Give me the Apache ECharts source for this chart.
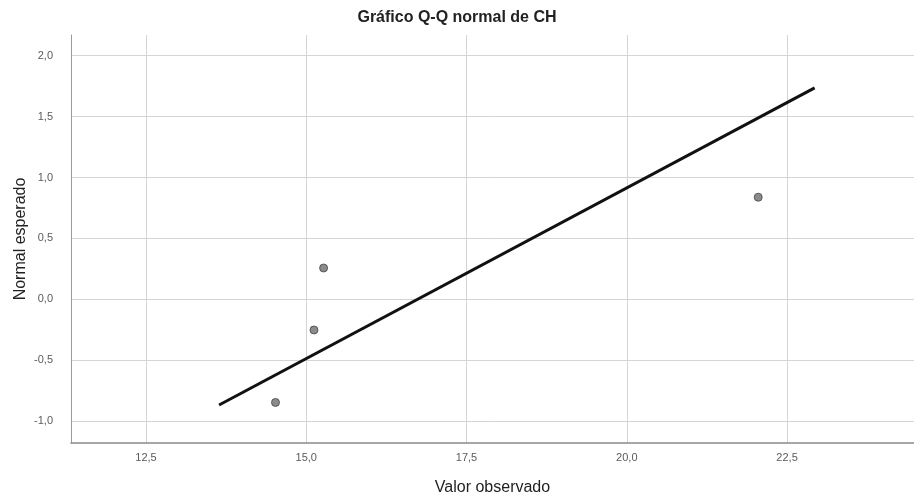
<!DOCTYPE html>
<html>
<head>
<meta charset="utf-8">
<title>Gráfico Q-Q normal de CH</title>
<script src="https://cdn.jsdelivr.net/npm/echarts@6/dist/echarts.min.js"></script>
<style>
  html, body { margin: 0; padding: 0; background: #ffffff; }
  #chart { width: 914px; height: 501px; }
</style>
</head>
<body>
<div id="chart"></div>
<script>
// Observed values of CH and their expected normal scores
const observed = [14.52, 15.12, 15.27, 22.05];
const expected = [-0.847, -0.252, 0.257, 0.838];

// Reference line end points (observed value, expected normal)
const refLineX = [13.64, 22.93];
const refLineY = [-0.868, 1.736];

// Tick positions for both axes
const xTicks = [12.5, 15.0, 17.5, 20.0, 22.5];
const yTicks = [-1.0, -0.5, 0.0, 0.5, 1.0, 1.5, 2.0];

const fmt = v => v.toFixed(1).replace('.', ',');
const font = '"Liberation Sans", Arial, sans-serif';

const chart = echarts.init(document.getElementById('chart'), null, { renderer: 'canvas' });

chart.setOption({
  animation: false,
  backgroundColor: '#ffffff',
  title: {
    text: 'Gráfico Q-Q normal de CH',
    left: 'center',
    top: 5,
    textStyle: { fontFamily: font, fontSize: 16, fontWeight: 'bold', color: '#222222' }
  },
  grid: { left: 71, right: 0, top: 35, bottom: 49, containLabel: false },
  xAxis: {
    type: 'value',
    min: 11.33,
    max: 24.48,
    name: 'Valor observado',
    nameLocation: 'middle',
    nameGap: 37,
    nameMoveOverlap: false,
    nameTextStyle: { fontFamily: font, fontSize: 16, color: '#222222' },
    axisLine: { show: true, onZero: false, lineStyle: { color: '#8a8a8a', width: 1.5 } },
    axisTick: { show: false, customValues: xTicks },
    axisLabel: {
      customValues: xTicks,
      formatter: fmt,
      margin: 9,
      fontFamily: font,
      fontSize: 11,
      color: '#5a5a5a'
    },
    splitLine: { show: true, lineStyle: { color: '#d4d4d4', width: 1 } }
  },
  yAxis: {
    type: 'value',
    min: -1.18,
    max: 2.17,
    name: 'Normal esperado',
    nameLocation: 'middle',
    nameGap: 42,
    nameMoveOverlap: false,
    nameTextStyle: { fontFamily: font, fontSize: 16, color: '#222222' },
    axisLine: { show: true, onZero: false, lineStyle: { color: '#9a9a9a', width: 1 } },
    axisTick: { show: false, customValues: yTicks },
    axisLabel: {
      customValues: yTicks,
      formatter: fmt,
      margin: 18,
      fontFamily: font,
      fontSize: 11,
      color: '#5a5a5a'
    },
    splitLine: { show: true, lineStyle: { color: '#d4d4d4', width: 1 } }
  },
  series: [
    {
      type: 'line',
      data: refLineX.map((x, i) => [x, refLineY[i]]),
      showSymbol: false,
      symbol: 'none',
      lineStyle: { color: '#111111', width: 3 },
      z: 3
    },
    {
      type: 'scatter',
      data: observed.map((x, i) => [x, expected[i]]),
      symbol: 'circle',
      symbolSize: 8,
      itemStyle: { color: '#6e6e6e', borderColor: '#444444', borderWidth: 1 },
      z: 4
    }
  ]
});
</script>
</body>
</html>
